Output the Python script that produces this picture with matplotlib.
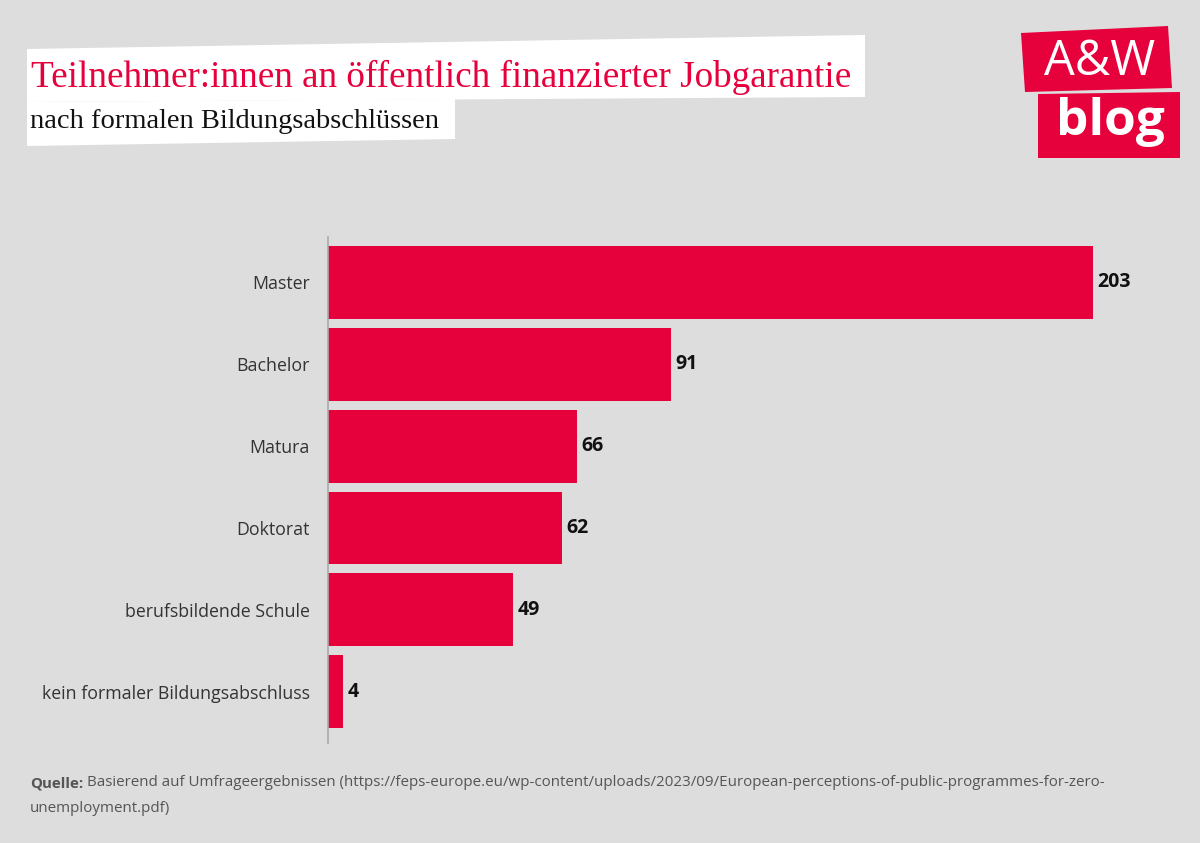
import matplotlib.pyplot as plt
from matplotlib.patches import Polygon

# Daten
categories = ['Master', 'Bachelor', 'Matura', 'Doktorat',
              'berufsbildende Schule', 'kein formaler Bildungsabschluss']
values = [203, 91, 66, 62, 49, 4]

title = 'Teilnehmer:innen an öffentlich finanzierter Jobgarantie'
subtitle = 'nach formalen Bildungsabschlüssen'
source_1 = 'Basierend auf Umfrageergebnissen (https://feps-europe.eu/wp-content/uploads/2023/09/European-perceptions-of-public-programmes-for-zero-'
source_2 = 'unemployment.pdf)'

BG = '#dddddd'
RED = '#e6003c'
W, H = 1200, 843


def px(x, y):
    # Pixelkoordinaten -> Figure-Koordinaten
    return (x / W, 1 - y / H)


fig = plt.figure(figsize=(12, 8.43), dpi=100, facecolor=BG)
ax = fig.add_axes([328 / W, 1 - 743 / H, 822 / W, 506 / H])
ax.set_facecolor(BG)

ypos = list(range(len(categories)))
ax.barh(ypos, values, height=0.89, color=RED, zorder=2)
for y, v in zip(ypos, values):
    ax.text(v + 1.2, y, str(v), va='center', ha='left', fontsize=14,
            fontweight='bold', color='#111111', family='Open Sans')

ax.set_yticks(ypos)
ax.set_yticklabels(categories, fontsize=12.8, color='#333333', family='Open Sans')
ax.tick_params(axis='y', length=0, pad=13)
ax.set_xticks([])
ax.set_xlim(0, 218.1)
ax.set_ylim(5.628, -0.555)
for side in ['top', 'right', 'bottom']:
    ax.spines[side].set_visible(False)
ax.spines['left'].set_color('#aaaaaa')
ax.spines['left'].set_linewidth(1.2)

# Titelboxen (leicht schräg)
fig.patches.append(Polygon([px(27, 49), px(865, 35), px(865, 97), px(27, 102)],
                           closed=True, facecolor='white', edgecolor='none',
                           transform=fig.transFigure, zorder=0))
fig.patches.append(Polygon([px(27, 102), px(455, 99), px(455, 139), px(27, 146)],
                           closed=True, facecolor='white', edgecolor='none',
                           transform=fig.transFigure, zorder=0))
fig.text(*px(31, 77), title, color=RED, fontsize=26.7, family='Liberation Serif',
         va='center', ha='left')
fig.text(*px(30, 121), subtitle, color='#111111', fontsize=20.5, family='Liberation Serif',
         va='center', ha='left')

# Logo
fig.patches.append(Polygon([px(1021, 33), px(1168, 26), px(1172, 88), px(1025, 92)],
                           closed=True, facecolor=RED, edgecolor='none',
                           transform=fig.transFigure, zorder=0))
fig.patches.append(Polygon([px(1038, 94), px(1180, 92), px(1180, 158), px(1038, 158)],
                           closed=True, facecolor=RED, edgecolor='none',
                           transform=fig.transFigure, zorder=0))
fig.text(*px(1100, 62), 'A&W', color='white', fontsize=35, family='Open Sans',
         va='center', ha='center')
fig.text(*px(1110, 122), 'blog', color='white', fontsize=37, family='Open Sans',
         fontweight='bold', va='center', ha='center')

# Quelle: Schriftgröße so wählen, dass die Zeile bei x=1108 endet
renderer = fig.canvas.get_renderer()
q = fig.text(*px(30, 783), 'Quelle:', color='#555555', fontsize=12, family='Open Sans',
             fontweight='bold', va='center', ha='left')
probe = fig.text(0, 0, source_1, fontsize=12, family='Open Sans')
size = 12 * (1100 - 30) / (probe.get_window_extent(renderer).width
                           + q.get_window_extent(renderer).width + 4)
probe.remove()
q.set_fontsize(size)
q_end = q.get_window_extent(renderer).x1
fig.text((q_end + 4) / W, 1 - 783 / H, source_1, color='#555555', fontsize=size,
         family='Open Sans', va='center', ha='left')
fig.text(*px(30, 809), source_2, color='#555555', fontsize=size, family='Open Sans',
         va='center', ha='left')

fig.savefig('out.png', dpi=100, facecolor=BG)
